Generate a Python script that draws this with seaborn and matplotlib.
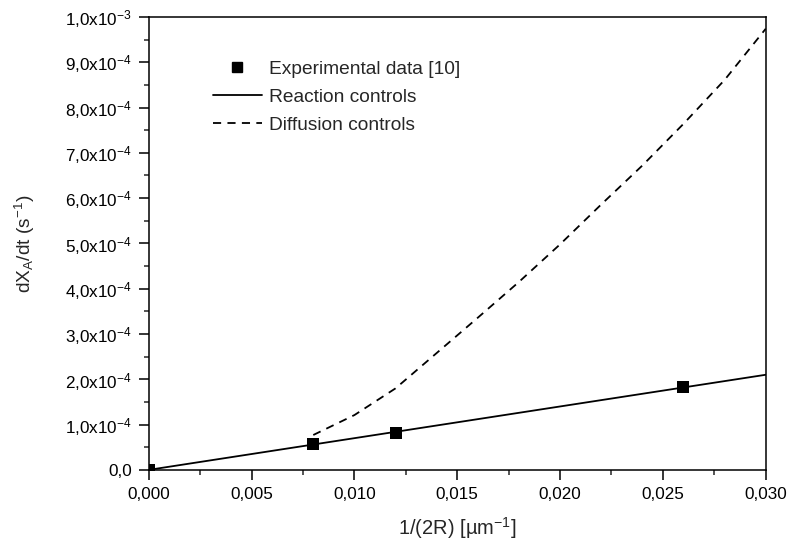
import matplotlib
matplotlib.use("Agg")
import matplotlib.pyplot as plt
import seaborn as sns
import numpy as np
import pandas as pd
from matplotlib.ticker import FixedLocator, FixedFormatter, MultipleLocator
from matplotlib.lines import Line2D

# ---- data ----
exp_x = [0.0, 0.008, 0.012, 0.026]
exp_y = [0.0, 0.57e-4, 0.81e-4, 1.83e-4]

reaction_x = [0.0, 0.030]
reaction_y = [0.0, 2.10e-4]

diffusion_x = [0.008, 0.010, 0.012, 0.014, 0.016, 0.018, 0.020, 0.022, 0.024, 0.026, 0.028, 0.030]
diffusion_y = [0.77e-4, 1.21e-4, 1.80e-4, 2.58e-4, 3.36e-4, 4.15e-4, 4.98e-4, 5.86e-4,
               6.72e-4, 7.64e-4, 8.61e-4, 9.74e-4]

x_ticks = [0.000, 0.005, 0.010, 0.015, 0.020, 0.025, 0.030]
x_tick_labels = ["0,000", "0,005", "0,010", "0,015", "0,020", "0,025", "0,030"]
y_ticks = [0.0, 1e-4, 2e-4, 3e-4, 4e-4, 5e-4, 6e-4, 7e-4, 8e-4, 9e-4, 1e-3]
y_tick_labels = ["0,0", "1,0x10$^{-4}$", "2,0x10$^{-4}$", "3,0x10$^{-4}$", "4,0x10$^{-4}$",
                 "5,0x10$^{-4}$", "6,0x10$^{-4}$", "7,0x10$^{-4}$", "8,0x10$^{-4}$",
                 "9,0x10$^{-4}$", "1,0x10$^{-3}$"]

legend_labels = ["Experimental data [10]", "Reaction controls", "Diffusion controls"]

# ---- style ----
sns.set_theme(style="ticks")
plt.rcParams["font.family"] = ["Liberation Sans", "DejaVu Sans"]
plt.rcParams["mathtext.default"] = "regular"

fig = plt.figure(figsize=(7.87, 5.47), dpi=100)
ax = fig.add_axes([0.189, 0.141, 0.784, 0.828])

df_exp = pd.DataFrame({"x": exp_x, "y": exp_y})
df_rea = pd.DataFrame({"x": reaction_x, "y": reaction_y})
df_dif = pd.DataFrame({"x": diffusion_x, "y": diffusion_y})

sns.lineplot(data=df_rea, x="x", y="y", ax=ax, color="black", linewidth=1.3, legend=False)
sns.lineplot(data=df_dif, x="x", y="y", ax=ax, color="black", linewidth=1.3, legend=False)
ax.lines[-1].set_dashes((4.5, 3.5))
sns.scatterplot(data=df_exp, x="x", y="y", ax=ax, color="black", marker="s", s=72,
                edgecolor="black", linewidth=0, zorder=5, legend=False)

ax.set_xlim(0, 0.030)
ax.set_ylim(0, 1.0e-3)

ax.xaxis.set_major_locator(FixedLocator(x_ticks))
ax.xaxis.set_major_formatter(FixedFormatter(x_tick_labels))
ax.xaxis.set_minor_locator(MultipleLocator(0.0025))
ax.yaxis.set_major_locator(FixedLocator(y_ticks))
ax.yaxis.set_major_formatter(FixedFormatter(y_tick_labels))
ax.yaxis.set_minor_locator(MultipleLocator(0.5e-4))

ax.tick_params(axis="both", which="major", direction="out", length=7, width=1.1,
               labelsize=12.3, colors="black", pad=5)
ax.tick_params(axis="both", which="minor", direction="out", length=3.8, width=1.1)
for s in ax.spines.values():
    s.set_linewidth(1.1)
    s.set_color("black")
    s.set_visible(True)

ax.set_xlabel("1/(2R) [µm$^{-1}$]", fontsize=14.5, labelpad=10)
ax.set_ylabel("dX$_A$/dt (s$^{-1}$)", fontsize=13.8, labelpad=20)

handles = [
    Line2D([], [], color="black", marker="s", linestyle="none", markersize=6.5),
    Line2D([], [], color="black", linewidth=1.3),
    Line2D([], [], color="black", linewidth=1.3, linestyle=(0, (4.5, 3.5))),
]
ax.legend(handles, legend_labels, loc="upper left", bbox_to_anchor=(0.091, 0.921),
          frameon=False, fontsize=13.8, handlelength=2.6, handletextpad=0.36,
          labelspacing=0.56, borderaxespad=0)

fig.savefig("out.png", dpi=100)
